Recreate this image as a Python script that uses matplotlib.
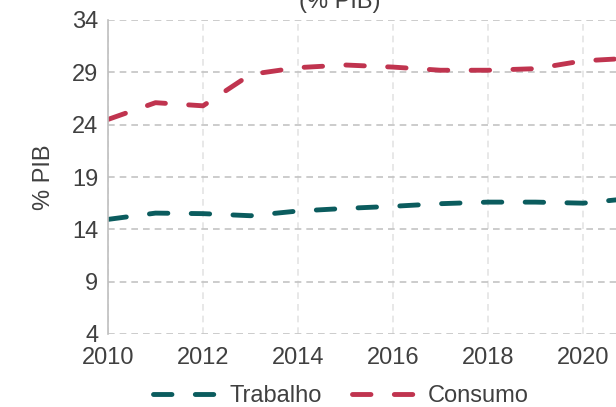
"""Receita por base de incidência (% PIB), 2010-2021."""

import matplotlib

matplotlib.use("Agg")
import matplotlib.pyplot as plt

plt.rcParams["font.family"] = ["Liberation Sans", "DejaVu Sans"]

# dados
anos = [2010, 2011, 2012, 2013, 2014, 2015, 2016, 2017, 2018, 2019, 2020, 2021]
trabalho = [14.95, 15.55, 15.5, 15.3, 15.75, 16.0, 16.2, 16.45, 16.6, 16.6, 16.5, 16.95]
consumo = [24.5, 26.1, 25.8, 28.8, 29.45, 29.7, 29.5, 29.2, 29.2, 29.35, 30.1, 30.35]

y_ticks = [4, 9, 14, 19, 24, 29, 34]
x_ticks = [2010, 2012, 2014, 2016, 2018, 2020]

COR_TRABALHO = "#0b5c5e"
COR_CONSUMO = "#c0344f"
COR_TEXTO = "#404040"

fig = plt.figure(figsize=(6.16, 4.07), dpi=100)
ax = fig.add_axes([108 / 616, 73 / 407, 570 / 616, 314 / 407])

dash = (3.8, 4.8)
ax.plot(anos, trabalho, color=COR_TRABALHO, lw=3.5, dashes=dash,
        dash_capstyle="round", label="Trabalho")
ax.plot(anos, consumo, color=COR_CONSUMO, lw=3.5, dashes=dash,
        dash_capstyle="round", label="Consumo")

ax.set_xlim(2010, 2022)
ax.set_ylim(4, 34)
ax.set_xticks(x_ticks)
ax.set_yticks(y_ticks)
ax.tick_params(labelsize=17, colors=COR_TEXTO, length=0, pad=7)
ax.tick_params(axis="x", pad=9)

ax.grid(axis="y", color="#c4c4c4", ls=(0, (4, 3)), lw=1.2)
ax.grid(axis="x", color="#e4e4e4", ls=(0, (4, 3)), lw=1.2)
ax.set_axisbelow(True)
for lado in ("top", "right", "bottom"):
    ax.spines[lado].set_visible(False)
ax.spines["left"].set_color("#bfbfbf")
ax.spines["left"].set_linewidth(1.2)

ax.set_ylabel("% PIB", fontsize=17, color=COR_TEXTO, labelpad=12)

fig.text(340 / 616, 1.0 - 2 / 407, "(% PIB)", ha="center", va="center",
         fontsize=17, color=COR_TEXTO)

fig.legend(loc="center", bbox_to_anchor=(341 / 616, 11 / 407), ncol=2,
           frameon=False, fontsize=17, handlelength=2.75, handletextpad=0.5,
           columnspacing=1.25, labelcolor=COR_TEXTO)

fig.savefig("out.png", dpi=100)
